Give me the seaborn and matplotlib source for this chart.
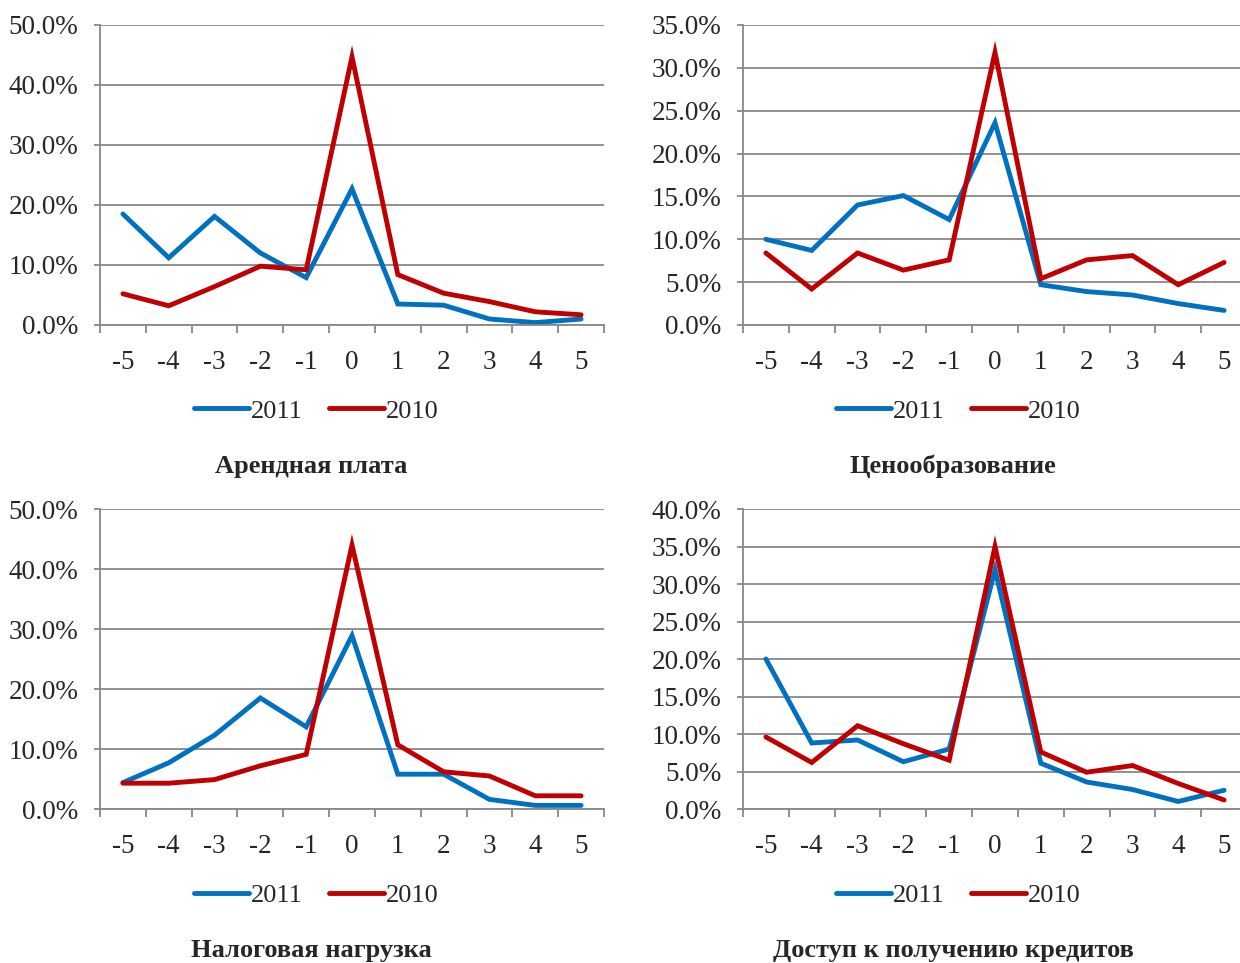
import numpy as np
import pandas as pd
import seaborn as sns
from matplotlib import pyplot as plt
from matplotlib.ticker import PercentFormatter, FixedLocator

##############################################

categories = ["-5", "-4", "-3", "-2", "-1", "0", "1", "2", "3", "4", "5"]
years = ["2011", "2010"]

titles = [
    "Арендная плата",
    "Ценообразование",
    "Налоговая нагрузка",
    "Доступ к получению кредитов",
]

rent_2011 = [18.5, 11.2, 18.1, 12.0, 7.9, 22.7, 3.5, 3.3, 1.0, 0.4, 1.0]
rent_2010 = [5.2, 3.2, 6.4, 9.8, 9.2, 44.7, 8.4, 5.3, 3.9, 2.2, 1.7]

price_2011 = [10.0, 8.7, 14.0, 15.1, 12.3, 23.6, 4.7, 3.9, 3.5, 2.5, 1.7]
price_2010 = [8.4, 4.2, 8.4, 6.4, 7.6, 31.8, 5.4, 7.6, 8.1, 4.7, 7.3]

tax_2011 = [4.4, 7.7, 12.3, 18.5, 13.7, 28.9, 5.8, 5.8, 1.6, 0.6, 0.6]
tax_2010 = [4.3, 4.3, 4.9, 7.2, 9.1, 44.0, 10.7, 6.2, 5.5, 2.2, 2.2]

credit_2011 = [20.0, 8.8, 9.2, 6.3, 8.0, 31.9, 6.1, 3.6, 2.6, 1.0, 2.5]
credit_2010 = [9.6, 6.2, 11.1, 8.7, 6.5, 35.0, 7.6, 4.9, 5.8, 3.4, 1.2]

y_max = [50, 35, 50, 40]
y_step = [10, 5, 10, 5]

##############################################

sns.set_style("white")
plt.rcParams["font.family"] = ["Liberation Serif", "DejaVu Serif"]

blue = "#0070C0"
red = "#C00000"
grid_color = "#888888"

W, H = 1240, 963
fig = plt.figure(figsize=(W / 100, H / 100), dpi=100)

# axes boxes in pixels: left, top, right, bottom
boxes = [
    (100, 25, 604, 325),
    (743, 25, 1247, 325),
    (100, 509, 604, 809),
    (743, 509, 1247, 809),
]
legend_x = [316, 958]   # per column
legend_y = [411, 895]   # per row
title_y = [466, 950]    # per row

series = [
    (rent_2011, rent_2010),
    (price_2011, price_2010),
    (tax_2011, tax_2010),
    (credit_2011, credit_2010),
]

for i, (s2011, s2010) in enumerate(series):
    col, row = i % 2, i // 2
    l, t, r, b = boxes[i]
    ax = fig.add_axes([l / W, 1 - b / H, (r - l) / W, (b - t) / H])

    df = pd.DataFrame({
        "pos": list(range(len(categories))) * 2,
        "value": s2011 + s2010,
        "year": [years[0]] * len(categories) + [years[1]] * len(categories),
    })
    sns.lineplot(
        data=df, x="pos", y="value", hue="year", hue_order=years,
        palette=[blue, red], linewidth=3.5, ax=ax, legend=True,
        solid_capstyle="round", solid_joinstyle="miter",
    )

    ax.set_xlim(-0.5, len(categories) - 0.5)
    ax.set_ylim(0, y_max[i])
    ax.set_yticks(np.arange(0, y_max[i] + 0.1, y_step[i]))
    ax.yaxis.set_major_formatter(PercentFormatter(xmax=100, decimals=1))
    ax.set_xticks(range(len(categories)))
    ax.set_xticklabels(categories)
    ax.xaxis.set_minor_locator(FixedLocator(np.arange(-0.5, len(categories), 1.0)))
    ax.set_xlabel("")
    ax.set_ylabel("")

    ax.grid(axis="y", color=grid_color, linewidth=1.3)
    ax.set_axisbelow(True)
    for side in ["top", "right"]:
        ax.spines[side].set_visible(False)
    for side in ["left", "bottom"]:
        ax.spines[side].set_color(grid_color)
        ax.spines[side].set_linewidth(1.3)

    ax.tick_params(axis="x", which="major", length=0, pad=18, labelsize=19.5)
    ax.tick_params(axis="x", which="minor", length=6, width=1.3,
                   color=grid_color, direction="out", bottom=True)
    ax.tick_params(axis="y", length=4.5, width=1.3, color=grid_color,
                   direction="out", left=True, pad=11, labelsize=19.5)

    handles, labels = ax.get_legend_handles_labels()
    ax.legend(
        handles, labels, loc="center",
        bbox_to_anchor=(legend_x[col] / W, 1 - legend_y[row] / H),
        bbox_transform=fig.transFigure, ncol=2, frameon=False,
        fontsize=19, handlelength=2.1, handletextpad=0.05, columnspacing=1.0,
    )

    fig.text(legend_x[col] / W - 0.004, 1 - title_y[row] / H, titles[i],
             ha="center", va="center", fontsize=19, fontweight="bold")

fig.savefig("out.png", dpi=100)
